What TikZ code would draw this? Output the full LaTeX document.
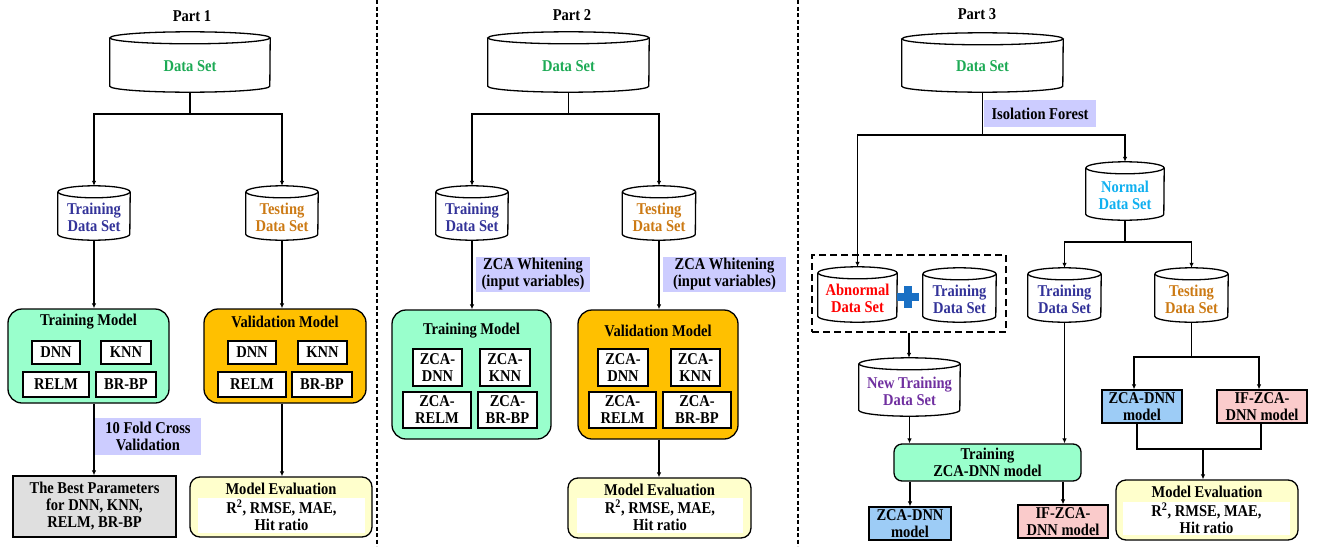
\documentclass[tikz,border=0pt]{standalone}
\usepackage{fontspec}
\setmainfont{Liberation Serif}[FakeStretch=0.88]
\usetikzlibrary{arrows.meta,calc}
\definecolor{dsgreen}{HTML}{1DAA55}
\definecolor{trblue}{HTML}{333399}
\definecolor{teorange}{HTML}{CC7A14}
\definecolor{nmblue}{HTML}{10B0F0}
\definecolor{abred}{HTML}{FF0000}
\definecolor{ntpurple}{HTML}{7030A0}
\definecolor{aqua}{HTML}{99FFCC}
\definecolor{gold}{HTML}{FFC000}
\definecolor{lav}{HTML}{CCCCFF}
\definecolor{lgray}{HTML}{DFDFDF}
\definecolor{lyellow}{HTML}{FFFFCC}
\definecolor{lblue}{HTML}{9DCCF6}
\definecolor{lpink}{HTML}{FACBCB}
\definecolor{plusblue}{HTML}{1A70C4}
\tikzset{
  ln/.style={line width=1.3pt},
  arr/.style={ln, -{Latex[length=5pt,width=4.5pt]}},
  box/.style={draw, ln, rectangle, inner sep=0pt, align=center},
  rbox/.style={draw, ln, rounded corners=14pt, inner sep=0pt},
  evbox/.style={draw, ln, rounded corners=10pt, fill=lyellow, inner sep=0pt},
  evin/.style={fill=white, inner sep=0pt, align=center},
  lbl/.style={fill=lav, inner sep=0pt, align=center},
  cylbox/.style={inner sep=0pt},
  cyltext/.style={align=center, inner sep=0pt},
  divider/.style={line width=1.3pt, dash pattern=on 4pt off 2.5pt},
  plain/.style={inner sep=0pt, align=center},
}
% name, cx, ytop, ybot, width, colour, text
\newcommand\mycyl[7]{%
  \node[cylbox, minimum width=#5pt, minimum height={(#4-#3)*1pt}] (#1) at (#2,{(#3+#4)/2}) {};
  \draw[ln, fill=white] ([yshift=-6pt]#1.north west) -- ([yshift=6pt]#1.south west)
     arc[start angle=180, end angle=360, x radius={#5/2*1pt}, y radius=6pt]
     -- ([yshift=-6pt]#1.north east);
  \draw[ln] ([yshift=-6pt]#1.north) ellipse[x radius={#5/2*1pt}, y radius=6pt];
  \node[cyltext, text=#6] (#1t) at ([yshift=-4pt]#1.center) {#7};
}
\begin{document}
\begin{tikzpicture}[x=1pt, y=-1pt, font=\fontsize{16.5pt}{17pt}\selectfont\bfseries]
\useasboundingbox (0,0) rectangle (1324,546);

% dividers
\coordinate (d1a) at (377,0); \coordinate (d1b) at (377,546);
\coordinate (d2a) at (798,0); \coordinate (d2b) at (798,546);
\draw[divider] (d1a) -- (d1b);
\draw[divider] (d2a) -- (d2b);

% ================= Part 1 =================
\node[plain] (p1) at (192,16) {Part 1};
\mycyl{ds1}{190}{32}{92}{160}{dsgreen}{Data Set}
\mycyl{tr1}{94}{186}{240}{72}{trblue}{Training\\Data Set}
\mycyl{te1}{282}{186}{240}{72}{teorange}{Testing\\Data Set}
\coordinate (j1) at (190,114);
\draw[ln] (ds1.south) -- (j1);
\draw[arr] (j1) -| (tr1.north);
\draw[arr] (j1) -| (te1.north);

\node[rbox, fill=aqua, minimum width=161pt, minimum height=94pt] (tm1) at (88.5,356) {};
\node[plain] (tm1t) at (88.5,322) {Training Model};
\node[box, fill=white, minimum width=48pt, minimum height=23pt] (dnn1) at (56,352.5) {DNN};
\node[box, fill=white, minimum width=50pt, minimum height=23pt] (knn1) at (126,352.5) {KNN};
\node[box, fill=white, minimum width=66pt, minimum height=25pt] (relm1) at (56,384.5) {RELM};
\node[box, fill=white, minimum width=60pt, minimum height=25pt] (brbp1) at (126,384.5) {BR-BP};

\node[rbox, fill=gold, minimum width=162pt, minimum height=94pt] (vm1) at (285,356) {};
\node[plain] (vm1t) at (285,322) {Validation Model};
\node[box, fill=white, minimum width=48pt, minimum height=23pt] (dnn1v) at (252,352.5) {DNN};
\node[box, fill=white, minimum width=49pt, minimum height=23pt] (knn1v) at (322.5,352.5) {KNN};
\node[box, fill=white, minimum width=68pt, minimum height=25pt] (relm1v) at (252,384.5) {RELM};
\node[box, fill=white, minimum width=60pt, minimum height=25pt] (brbp1v) at (322,384.5) {BR-BP};

\draw[arr] (tr1.south) -- (tr1.south |- tm1.north);
\draw[arr] (te1.south) -- (te1.south |- vm1.north);

\node[box, fill=lgray, minimum width=163pt, minimum height=61pt] (bp1) at (94.5,506.5) {The Best Parameters\\for DNN, KNN,\\RELM, BR-BP};
\draw[arr] (tr1.south |- tm1.south) -- (tr1.south |- bp1.north);
\node[lbl, minimum width=106pt, minimum height=37pt] (cv1) at (148,436.5) {10 Fold Cross\\Validation};

\node[evbox, minimum width=182pt, minimum height=60pt] (me1) at (281,507) {};
\node[evin, minimum width=167pt, minimum height=35pt] (me1i) at (281.5,515.5) {R\textsuperscript{2}, RMSE, MAE,\\Hit ratio};
\node[plain] (me1t) at (281,489) {Model Evaluation};
\draw[arr] (te1.south |- vm1.south) -- (te1.south |- me1.north);

% ================= Part 2 =================
\node[plain] (p2) at (572,15) {Part 2};
\mycyl{ds2}{568.5}{32}{92}{161}{dsgreen}{Data Set}
\mycyl{tr2}{472}{186}{240}{72}{trblue}{Training\\Data Set}
\mycyl{te2}{659}{186}{240}{73}{teorange}{Testing\\Data Set}
\coordinate (j2) at (568.5,114);
\draw[ln] (ds2.south) -- (j2);
\draw[arr] (j2) -| (tr2.north);
\draw[arr] (j2) -| (te2.north);

\node[rbox, fill=aqua, minimum width=159pt, minimum height=129pt] (tm2) at (471.5,374.5) {};
\node[plain] (tm2t) at (471.5,331) {Training Model};
\node[box, fill=white, minimum width=49pt, minimum height=37pt] (zdnn2) at (437.5,367.5) {ZCA-\\DNN};
\node[box, fill=white, minimum width=50pt, minimum height=37pt] (zknn2) at (505,367.5) {ZCA-\\KNN};
\node[box, fill=white, minimum width=68pt, minimum height=36pt] (zrelm2) at (437,410) {ZCA-\\RELM};
\node[box, fill=white, minimum width=59pt, minimum height=36pt] (zbrbp2) at (507.5,410) {ZCA-\\BR-BP};

\node[rbox, fill=gold, minimum width=160pt, minimum height=129pt] (vm2) at (658,374.5) {};
\node[plain] (vm2t) at (658,331) {Validation Model};
\node[box, fill=white, minimum width=50pt, minimum height=37pt] (zdnn2v) at (623,367.5) {ZCA-\\DNN};
\node[box, fill=white, minimum width=49pt, minimum height=37pt] (zknn2v) at (695.5,367.5) {ZCA-\\KNN};
\node[box, fill=white, minimum width=67pt, minimum height=36pt] (zrelm2v) at (622.5,410) {ZCA-\\RELM};
\node[box, fill=white, minimum width=68pt, minimum height=36pt] (zbrbp2v) at (697,410) {ZCA-\\BR-BP};

\draw[arr] (tr2.south) -- (tr2.south |- tm2.north);
\draw[arr] (te2.south) -- (te2.south |- vm2.north);
\node[lbl, minimum width=114pt, minimum height=35pt] (zw2a) at (533,274.5) {ZCA Whitening\\(input variables)};
\node[lbl, minimum width=123pt, minimum height=35pt] (zw2b) at (724.5,274.5) {ZCA Whitening\\(input variables)};

\node[evbox, minimum width=183pt, minimum height=60pt] (me2) at (659.5,508) {};
\node[evin, minimum width=166pt, minimum height=35pt] (me2i) at (660,515.5) {R\textsuperscript{2}, RMSE, MAE,\\Hit ratio};
\node[plain] (me2t) at (659.5,490) {Model Evaluation};
\draw[arr] (te2.south |- vm2.south) -- (te2.south |- me2.north);

% ================= Part 3 =================
\node[plain] (p3) at (977,14) {Part 3};
\mycyl{ds3}{982.5}{33}{92}{161}{dsgreen}{Data Set}
\coordinate (j3) at (982.5,135);
\draw[ln] (ds3.south) -- (j3);
\node[lbl, minimum width=112pt, minimum height=27pt] (ifl) at (1040,113.5) {Isolation Forest};

\mycyl{nd}{1125}{162}{220}{78}{nmblue}{Normal\\Data Set}
\node[draw, ln, dash pattern=on 7pt off 4pt, minimum width=194pt, minimum height=77pt, inner sep=0pt] (db) at (909,293.5) {};
\mycyl{ab}{857.5}{267}{322}{79}{abred}{Abnormal\\Data Set}
\mycyl{tr3a}{959.5}{268}{322}{73}{trblue}{Training\\Data Set}
\mycyl{tr3b}{1064.5}{268}{322}{73}{trblue}{Training\\Data Set}
\mycyl{te3}{1191.5}{268}{322}{73}{teorange}{Testing\\Data Set}
\draw[arr] (j3) -| (ab.north);
\draw[arr] (j3) -| (nd.north);
\coordinate (j4) at (1125,242);
\draw[ln] (nd.south) -- (j4);
\draw[arr] (j4) -| (tr3b.north);
\draw[arr] (j4) -| (te3.north);

% plus sign
\coordinate (pl) at (908,297);
\fill[plusblue] ([xshift=-11pt, yshift=-3.8pt]pl) rectangle ([xshift=11pt, yshift=3.8pt]pl);
\fill[plusblue] ([xshift=-3.8pt, yshift=-11pt]pl) rectangle ([xshift=3.8pt, yshift=11pt]pl);

\mycyl{nt}{909.5}{358}{416}{101}{ntpurple}{New Training\\Data Set}
\draw[arr] (db.south) -- (db.south |- nt.north);

\node[draw, ln, rounded corners=8pt, fill=aqua, minimum width=187pt, minimum height=37pt, inner sep=0pt, align=center] (tz) at (987.5,462.5) {Training\\ZCA-DNN model};
\draw[arr] (nt.south) -- (nt.south |- tz.north);
\draw[arr] (tr3b.south) -- (tr3b.south |- tz.north);

\node[box, fill=lblue, minimum width=82pt, minimum height=33pt] (zd1) at (910,523.5) {ZCA-DNN\\model};
\node[box, fill=lpink, minimum width=90pt, minimum height=33pt] (if1) at (1063,521.5) {IF-ZCA-\\DNN model};
\draw[arr] (zd1.north |- tz.south) -- (zd1.north);
\draw[arr] (if1.north |- tz.south) -- (if1.north);

\node[box, fill=lblue, minimum width=80pt, minimum height=33pt] (zd2) at (1142,406.5) {ZCA-DNN\\model};
\node[box, fill=lpink, minimum width=90pt, minimum height=33pt] (if2) at (1262,406.5) {IF-ZCA-\\DNN model};
\coordinate (j5) at (1191.5,357);
\draw[ln] (te3.south) -- (j5);
\draw[arr] (j5) -| ([xshift=-8pt]zd2.north);
\draw[arr] (j5) -| ([xshift=-3pt]if2.north);

\node[evbox, minimum width=182pt, minimum height=60pt] (me3) at (1207,510) {};
\node[evin, minimum width=167pt, minimum height=33pt] (me3i) at (1206.5,518.5) {R\textsuperscript{2}, RMSE, MAE,\\Hit ratio};
\node[plain] (me3t) at (1207,492) {Model Evaluation};
\coordinate (j6) at (1203,449);
\draw[ln] ([xshift=-5pt]zd2.south) |- (j6) -| ([xshift=-1pt]if2.south);
\draw[arr] (j6) -- (j6 |- me3.north);
\end{tikzpicture}
\end{document}
